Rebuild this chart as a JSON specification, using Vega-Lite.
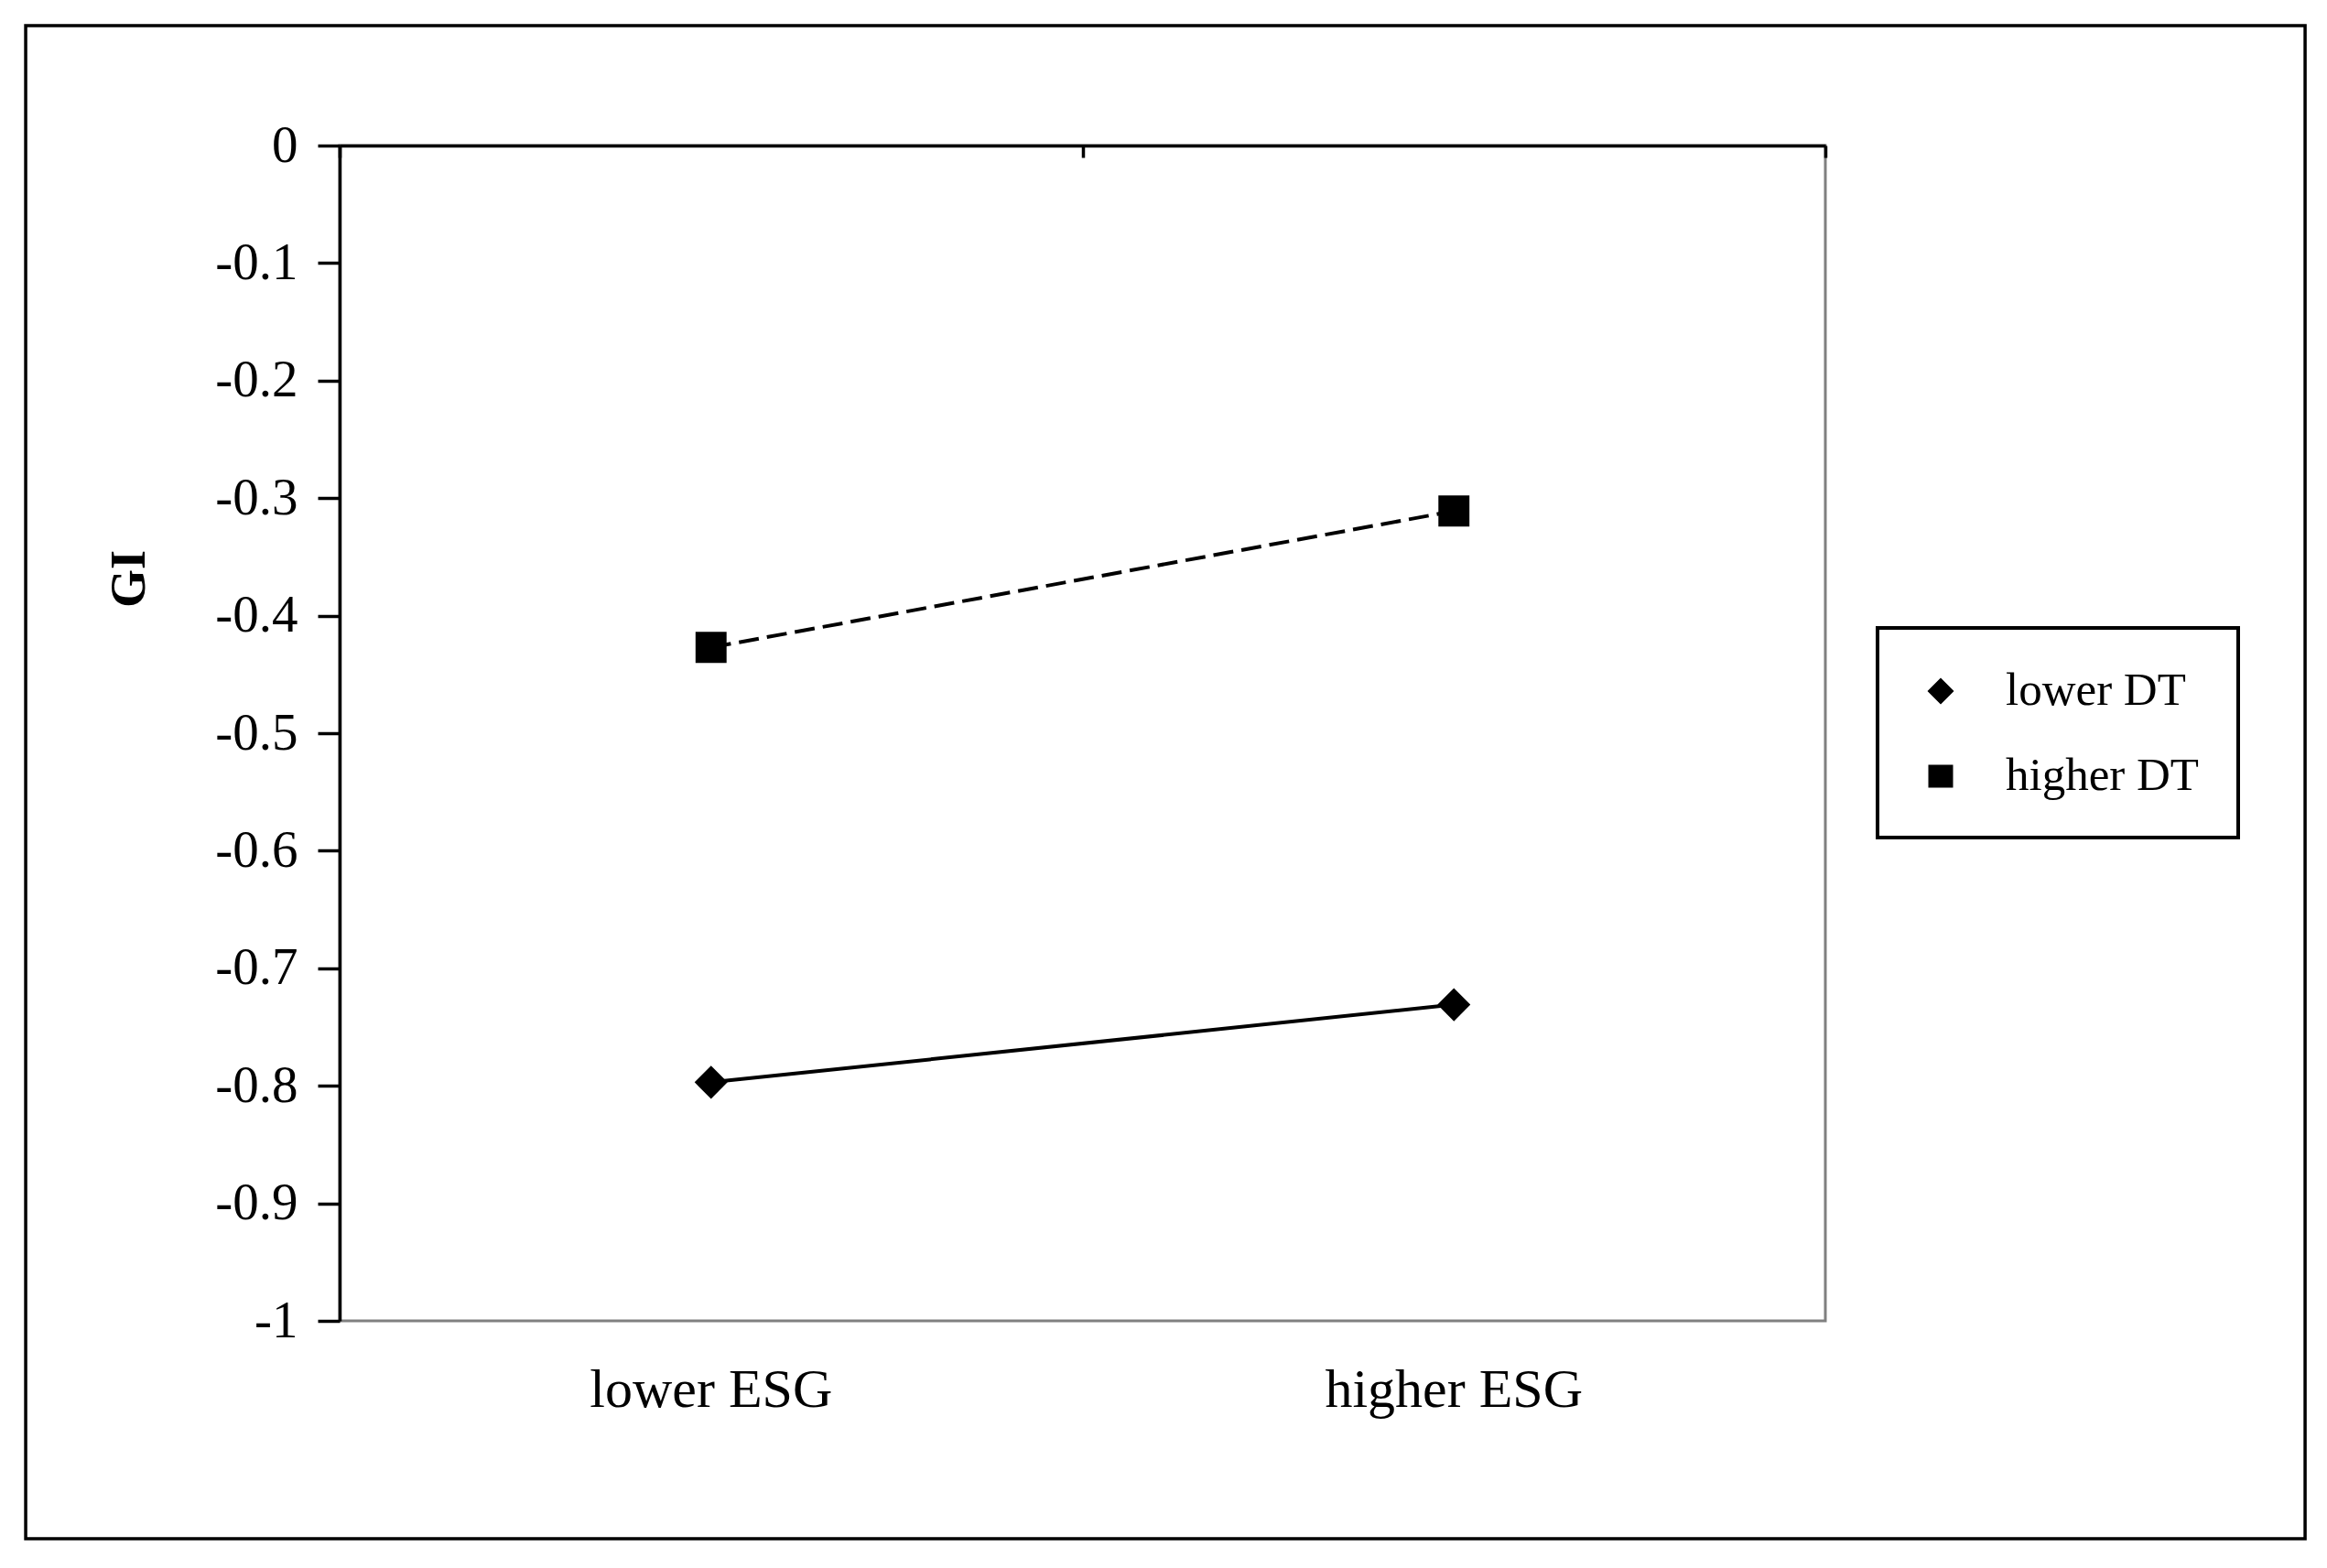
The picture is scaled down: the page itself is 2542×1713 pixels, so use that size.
{
  "$schema": "https://vega.github.io/schema/vega-lite/v6.json",
  "background": "white",
  "padding": {"left": 26, "top": 26, "right": 22, "bottom": 30},
  "width": 1623,
  "height": 1284,
  "config": {
    "view": {"stroke": "#808080", "strokeWidth": 3},
    "font": "Liberation Serif",
    "axis": {"grid": false},
    "legend": {"strokeWidth": 4}
  },
  "datasets": {
    "points": [
      {"esg": "lower ESG", "dt": "lower DT", "gi": -0.797},
      {"esg": "higher ESG", "dt": "lower DT", "gi": -0.731},
      {"esg": "lower ESG", "dt": "higher DT", "gi": -0.427},
      {"esg": "higher ESG", "dt": "higher DT", "gi": -0.311}
    ]
  },
  "data": {"name": "points"},
  "resolve": {"scale": {"x": "independent"}},
  "layer": [
    {
      "data": {"values": [{}]},
      "mark": {"type": "rect", "fill": "transparent", "stroke": "black", "strokeWidth": 3.5},
      "encoding": {
        "x": {"datum": -0.2113, "type": "quantitative", "scale": {"domain": [0, 1], "nice": false, "zero": false}, "axis": null},
        "x2": {"datum": 1.3229},
        "y": {"datum": 0.102, "type": "quantitative", "scale": {"domain": [-1, 0], "nice": false, "zero": false}},
        "y2": {"datum": -1.1854}
      }
    },
    {
      "transform": [{"filter": "datum.dt === 'lower DT'"}],
      "mark": {"type": "line", "color": "black", "strokeWidth": 4},
      "encoding": {
        "x": {
          "field": "esg", "type": "nominal", "sort": ["lower ESG", "higher ESG"], "bandPosition": 0.5,
          "scale": {"type": "band", "paddingInner": 0, "paddingOuter": 0},
          "axis": {"orient": "top", "labels": false, "title": null, "grid": false, "domainColor": "black", "domainWidth": 3.5, "tickColor": "black", "tickWidth": 3.5, "tickSize": -13, "tickBand": "extent", "zindex": 1}
        },
        "y": {
          "field": "gi", "type": "quantitative",
          "scale": {"domain": [-1, 0], "nice": false, "zero": false},
          "axis": {
            "orient": "left",
            "zindex": 1,
            "values": [0, -0.1, -0.2, -0.3, -0.4, -0.5, -0.6, -0.7, -0.8, -0.9, -1],
            "grid": false,
            "title": "GI",
            "titleFont": "Liberation Serif", "titleFontSize": 54, "titleFontWeight": "bold", "titleColor": "black",
            "titleAngle": 270, "titleX": -230, "titleY": 473, "titleAlign": "center", "titleBaseline": "middle",
            "domainColor": "black", "domainWidth": 3.5,
            "tickColor": "black", "tickWidth": 3.5, "tickSize": 24,
            "labelFont": "Liberation Serif", "labelFontSize": 57, "labelColor": "black", "labelPadding": 22,
            "labelFlush": false, "labelOverlap": false,
            "labelExpr": "datum.value == 0 ? '0' : datum.value <= -1 ? '-1' : '-' + format(-datum.value, '.1f')"
          }
        }
      }
    },
    {
      "transform": [{"filter": "datum.dt === 'higher DT'"}],
      "mark": {"type": "line", "color": "black", "strokeWidth": 4, "strokeDash": [22, 9]},
      "encoding": {
        "x": {"field": "esg", "type": "nominal", "sort": ["lower ESG", "higher ESG"], "bandPosition": 0.5, "scale": {"type": "band", "paddingInner": 0, "paddingOuter": 0}, "axis": null},
        "y": {"field": "gi", "type": "quantitative"}
      }
    },
    {
      "transform": [{"filter": "datum.dt === 'lower DT'"}],
      "mark": {"type": "point", "shape": "diamond", "filled": true, "color": "black", "size": 1300, "opacity": 1},
      "encoding": {
        "x": {"field": "esg", "type": "nominal", "sort": ["lower ESG", "higher ESG"], "bandPosition": 0.5, "scale": {"type": "band", "paddingInner": 0, "paddingOuter": 0}, "axis": null},
        "y": {"field": "gi", "type": "quantitative"}
      }
    },
    {
      "transform": [{"filter": "datum.dt === 'higher DT'"}],
      "mark": {"type": "point", "shape": "square", "filled": true, "color": "black", "size": 1150, "opacity": 1},
      "encoding": {
        "x": {
          "field": "esg", "type": "nominal", "sort": ["lower ESG", "higher ESG"], "bandPosition": 0.5,
          "scale": {"type": "band", "paddingInner": 0, "paddingOuter": 0},
          "axis": {"orient": "bottom", "zindex": 1, "title": null, "domain": false, "ticks": false, "tickSize": 0, "grid": false, "labelFont": "Liberation Serif", "labelFontSize": 60, "labelColor": "black", "labelPadding": 46, "labelAngle": 0, "labelLimit": 0}
        },
        "y": {"field": "gi", "type": "quantitative"}
      }
    },
    {
      "mark": {"type": "point", "filled": true, "fill": "black", "stroke": "black", "strokeWidth": 3.5, "opacity": 0},
      "encoding": {
        "x": {"field": "esg", "type": "nominal", "sort": ["lower ESG", "higher ESG"], "bandPosition": 0.5, "scale": {"type": "band", "paddingInner": 0, "paddingOuter": 0}, "axis": null},
        "y": {"field": "gi", "type": "quantitative"},
        "shape": {
          "field": "dt", "type": "nominal",
          "scale": {
            "domain": ["lower DT", "higher DT"],
            "range": [
              "M-2.16,0H2.16M0,-0.58L0.58,0L0,0.58L-0.58,0Z",
              "M-2.16,0H-1.72M-1.52,0H-0.8M0.6,0H0.88M1.08,0H1.8M-0.54,-0.5H0.54V0.5H-0.54Z"
            ]
          },
          "legend": {
            "orient": "none", "legendX": 1680, "legendY": 527,
            "title": null,
            "strokeColor": "black",
            "padding": 42,
            "symbolSize": 2500,
            "symbolOpacity": 1,
            "symbolFillColor": "black",
            "symbolStrokeColor": "black",
            "symbolStrokeWidth": 3.5,
            "labelFont": "Liberation Serif", "labelFontSize": 51, "labelColor": "black",
            "labelOffset": 44,
            "labelLimit": 0,
            "rowPadding": 41,
            "encode": {
              "legend": {"update": {"strokeWidth": {"value": 4}}},
              "symbols": {"update": {"fill": {"value": "black"}, "stroke": {"value": "black"}, "strokeWidth": {"value": 3.5}, "opacity": {"value": 1}}}
            }
          }
        }
      }
    }
  ]
}
